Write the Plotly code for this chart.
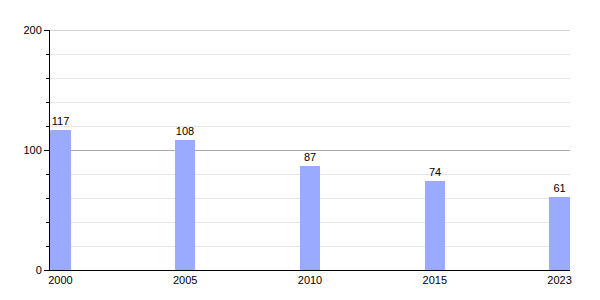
import plotly.graph_objects as go

years = ["2000", "2005", "2010", "2015", "2023"]
values = [117, 108, 87, 74, 61]
y_ticks = [0, 100, 200]
y_max = 200

fig = go.Figure()
fig.add_trace(go.Bar(
    x=years, y=values,
    width=0.164,
    marker=dict(color="#99aaff", line=dict(width=0)),
    text=[str(v) for v in values],
    textposition="outside",
    textfont=dict(family="Liberation Sans, Arial, sans-serif", size=11, color="#000000"),
    cliponaxis=False,
))

# top major gridline (plotly omits grid at the range edge)
fig.add_shape(type="line", xref="x domain", x0=0, x1=1, yref="y", y0=y_max, y1=y_max,
              line=dict(color="#aaaaaa", width=1), layer="below")

fig.update_layout(
    width=600, height=300,
    margin=dict(l=50, r=30, t=30, b=30),
    paper_bgcolor="white", plot_bgcolor="white",
    showlegend=False,
    font=dict(family="Liberation Sans, Arial, sans-serif", size=11, color="#000000"),
    bargap=0,
)
fig.update_xaxes(
    type="category",
    range=[-0.084, 4.084],
    showline=True, linecolor="#000000", linewidth=1,
    ticks="", showgrid=False,
    tickfont=dict(size=11, color="#000000"),
)
fig.update_yaxes(
    range=[0, y_max],
    tickvals=y_ticks,
    showline=True, linecolor="#000000", linewidth=1,
    ticks="outside", ticklen=5, tickcolor="#000000",
    showgrid=True, gridcolor="#aaaaaa", gridwidth=1,
    zeroline=False,
    minor=dict(dtick=20, ticks="outside", ticklen=3, tickcolor="#000000",
               showgrid=True, gridcolor="#e6e6e6", gridwidth=1),
    tickfont=dict(size=11, color="#000000"),
)

fig.write_html("out.html")
